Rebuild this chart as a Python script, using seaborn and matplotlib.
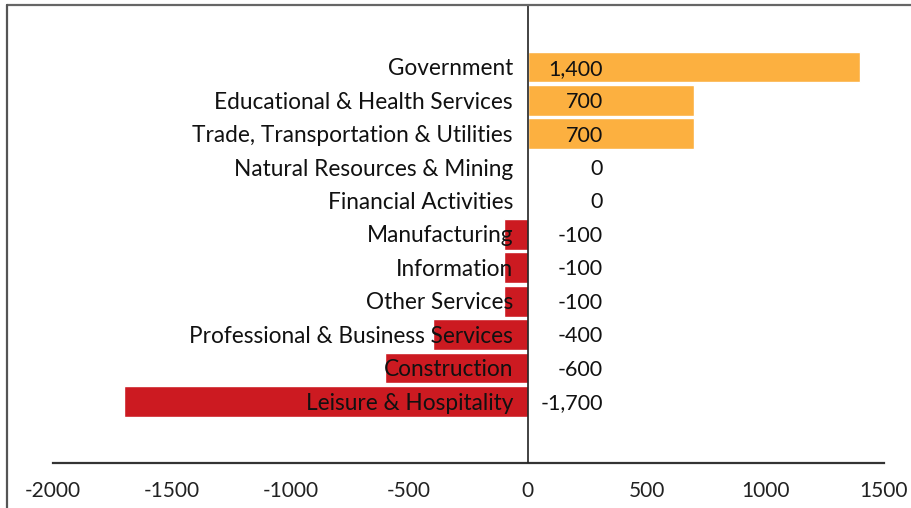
import matplotlib
matplotlib.use("Agg")
import matplotlib.pyplot as plt
import seaborn as sns
import pandas as pd
from matplotlib.lines import Line2D

categories = ["Government", "Educational & Health Services", "Trade, Transportation & Utilities",
              "Natural Resources & Mining", "Financial Activities", "Manufacturing", "Information",
              "Other Services", "Professional & Business Services", "Construction", "Leisure & Hospitality"]
values = [1400, 700, 700, 0, 0, -100, -100, -100, -400, -600, -1700]
value_labels = ["1,400", "700", "700", "0", "0", "-100", "-100", "-100", "-400", "-600", "-1,700"]
xticks = [-2000, -1500, -1000, -500, 0, 500, 1000, 1500]

sns.set_theme(style="white")
plt.rcParams['font.family'] = ['Lato', 'DejaVu Sans']

W, H = 911, 508
fig = plt.figure(figsize=(W / 100, H / 100), dpi=100)
ax = fig.add_axes([53 / W, 1 - 463 / H, (884 - 53) / W, (463 - 5) / H])

df = pd.DataFrame({"cat": categories, "val": values})
colors = {c: ("#FCB040" if v > 0 else "#CC1A21") for c, v in zip(categories, values)}
sns.barplot(data=df, x="val", y="cat", hue="cat", palette=colors, legend=False,
            orient="h", width=0.92, ax=ax, saturation=1, zorder=1)

ax.set_xlim(-2000, 1500)
ax.set_ylim(11.839, -1.853)
ax.set_xlabel("")
ax.set_ylabel("")
ax.set_yticks([])
ax.set_xticks(xticks)
ax.set_xticklabels([str(t) for t in xticks], fontsize=15, color="#222222")
ax.tick_params(axis="x", length=0, pad=13)
for s in ["top", "right", "left"]:
    ax.spines[s].set_visible(False)
ax.spines["bottom"].set_color("#333333")
ax.spines["bottom"].set_linewidth(1.6)
ax.axvline(0, color="#222222", lw=1.2, zorder=3)

for i, (c, lab) in enumerate(zip(categories, value_labels)):
    ax.text(-63, i + 0.05, c, ha="right", va="center", fontsize=16.3, color="#111111", zorder=4)
    ax.text(316, i + 0.05, lab, ha="right", va="center", fontsize=15.5, color="#111111", zorder=4)

fig.add_artist(Line2D([7 / W, 1], [1 - 5 / H, 1 - 5 / H], color="#666666", lw=1.6))
fig.add_artist(Line2D([7 / W, 7 / W], [0, 1 - 5 / H], color="#555555", lw=1.6))

fig.savefig("out.png", dpi=100)
